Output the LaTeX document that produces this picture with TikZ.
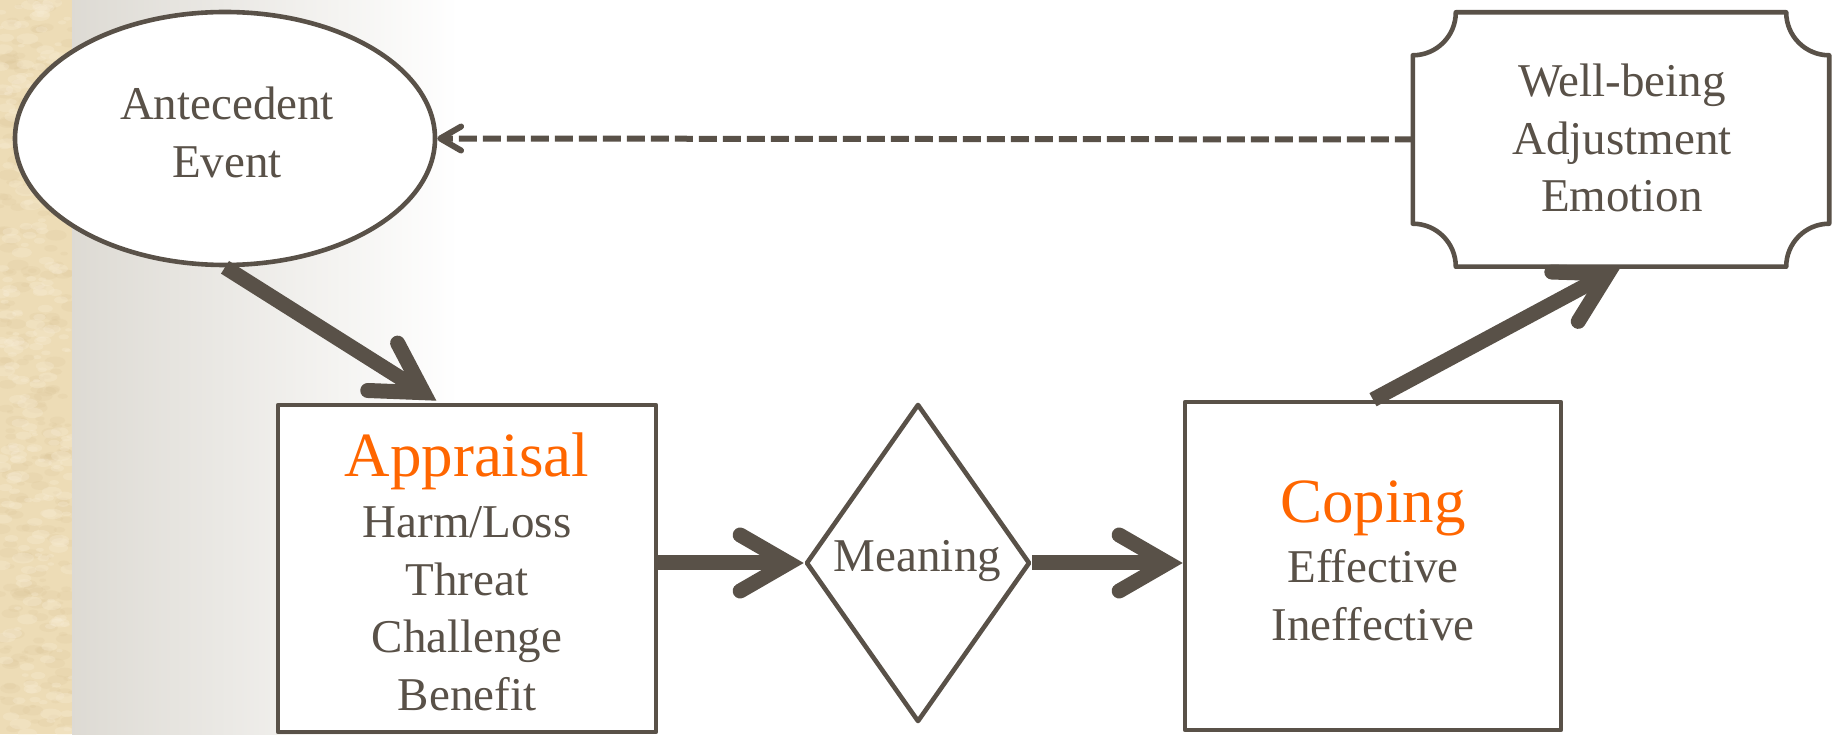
\documentclass[tikz,border=0pt]{standalone}
\usepackage{fontspec}
\setmainfont{Liberation Serif}
\usetikzlibrary{shapes.geometric,calc}
\definecolor{ink}{HTML}{595148}
\definecolor{accent}{HTML}{FF6600}
\definecolor{beige}{HTML}{EDDCB6}
\definecolor{beigeD}{HTML}{D9C396}
\definecolor{beigeL}{HTML}{F8EDD6}
\definecolor{gradL}{HTML}{D2CEC5}
\begin{document}
\begin{tikzpicture}[x=1pt,y=1pt,
  shapeline/.style={draw=ink, line width=4.6pt, fill=white, line join=round},
  txt/.style={text=ink, inner sep=0pt, font=\fontsize{47}{57.5}\selectfont, anchor=base},
  shaft/.style={draw=ink, line width=15pt, line cap=butt},
  chev/.style={draw=ink, line width=15pt, line cap=round, line join=miter},
  dashline/.style={draw=ink, line width=6pt, dash pattern=on 18pt off 6pt},
  dchev/.style={draw=ink, line width=6pt, line cap=round, line join=round}
]
\useasboundingbox (0,0) rectangle (1837,734);
% background
\fill[white] (0,0) rectangle (1837,734);
\fill[beige] (0,0) rectangle (72,734);
\begin{scope}
  \clip (0,0) rectangle (72,734);
  \pgfmathsetseed{7}
  \foreach \i in {1,...,260}{
    \pgfmathsetmacro\xx{rnd*72}
    \pgfmathsetmacro\yy{rnd*734}
    \pgfmathsetmacro\rr{1.5+rnd*4}
    \fill[beigeD, opacity=0.18] (\xx,\yy) ellipse ({\rr*2} and \rr);
  }
  \foreach \i in {1,...,260}{
    \pgfmathsetmacro\xx{rnd*72}
    \pgfmathsetmacro\yy{rnd*734}
    \pgfmathsetmacro\rr{1.5+rnd*4}
    \fill[beigeL, opacity=0.3] (\xx,\yy) ellipse ({\rr*2} and \rr);
  }
\end{scope}
\begin{scope}
  \clip (72,0) rectangle (459,734);
  \shade[left color=gradL, right color=white] (-57,0) rectangle (459,734);
\end{scope}

% shapes
\node[shapeline, ellipse, minimum width=420pt, minimum height=253pt, inner sep=0pt] (ant) at (225,595.5) {};
\node[shapeline, rectangle, minimum width=378pt, minimum height=327pt, inner sep=0pt] (app) at (467,165.5) {};
\node[shapeline, diamond, minimum width=224pt, minimum height=318pt, inner sep=0pt] (mean) at (918,171) {};
\node[shapeline, rectangle, minimum width=376pt, minimum height=328pt, inner sep=0pt] (cop) at (1373,168) {};
\node[minimum width=416pt, minimum height=254pt, inner sep=0pt] (wb) at (1621,594.5) {};
\draw[shapeline]
  ($(wb.north west)+(43,0)$) -- ($(wb.north east)+(-43,0)$)
  arc[start angle=180, end angle=270, radius=43]
  -- ($(wb.south east)+(0,43)$)
  arc[start angle=90, end angle=180, radius=43]
  -- ($(wb.south west)+(43,0)$)
  arc[start angle=0, end angle=90, radius=43]
  -- ($(wb.north west)+(0,-43)$)
  arc[start angle=270, end angle=360, radius=43]
  -- cycle;

% texts
\node[txt] (antT) at (227,614) {\begin{tabular}[t]{@{}c@{}}Antecedent\\Event\end{tabular}};
\node[txt] (wbT) at (1622,637) {\begin{tabular}[t]{@{}c@{}}Well-being\\Adjustment\\Emotion\end{tabular}};
\node[txt] (appT) at (467,257) {\begin{tabular}[t]{@{}c@{}}{\fontsize{63}{75}\selectfont\color{accent}Appraisal}\\[3.5pt]Harm/Loss\\Threat\\Challenge\\Benefit\end{tabular}};
\node[txt] (meanT) at (917.5,162) {Meaning};
\node[txt] (copT) at (1373,211) {\begin{tabular}[t]{@{}c@{}}{\fontsize{63}{75}\selectfont\color{accent}Coping}\\[2.5pt]Effective\\Ineffective\end{tabular}};

% connectors
\coordinate (a1e) at ($(app.north west)!0.42!(app.north east)+(0,2)$);
\coordinate (a2s) at (mean.west -| app.east);
\coordinate (a3e) at (mean.east -| cop.west);
\foreach \s/\e in {ant.south/a1e, a2s/mean.west, mean.east/a3e, cop.north/wb.south}{
  \coordinate (v) at ($(\e)!15pt!(\s)$);
  \draw[shaft] (\s) -- (v);
  \draw[chev] ($(v)!56pt!30:(\s)$) -- (v) -- ($(v)!56pt!-30:(\s)$);
}
\coordinate (dv) at ($(ant.east)!3pt!(wb.west)$);
\draw[dashline] (wb.west) -- (dv);
\draw[dchev] ($(dv)!24pt!30:(wb.west)$) -- (dv) -- ($(dv)!24pt!-30:(wb.west)$);
\end{tikzpicture}
\end{document}
